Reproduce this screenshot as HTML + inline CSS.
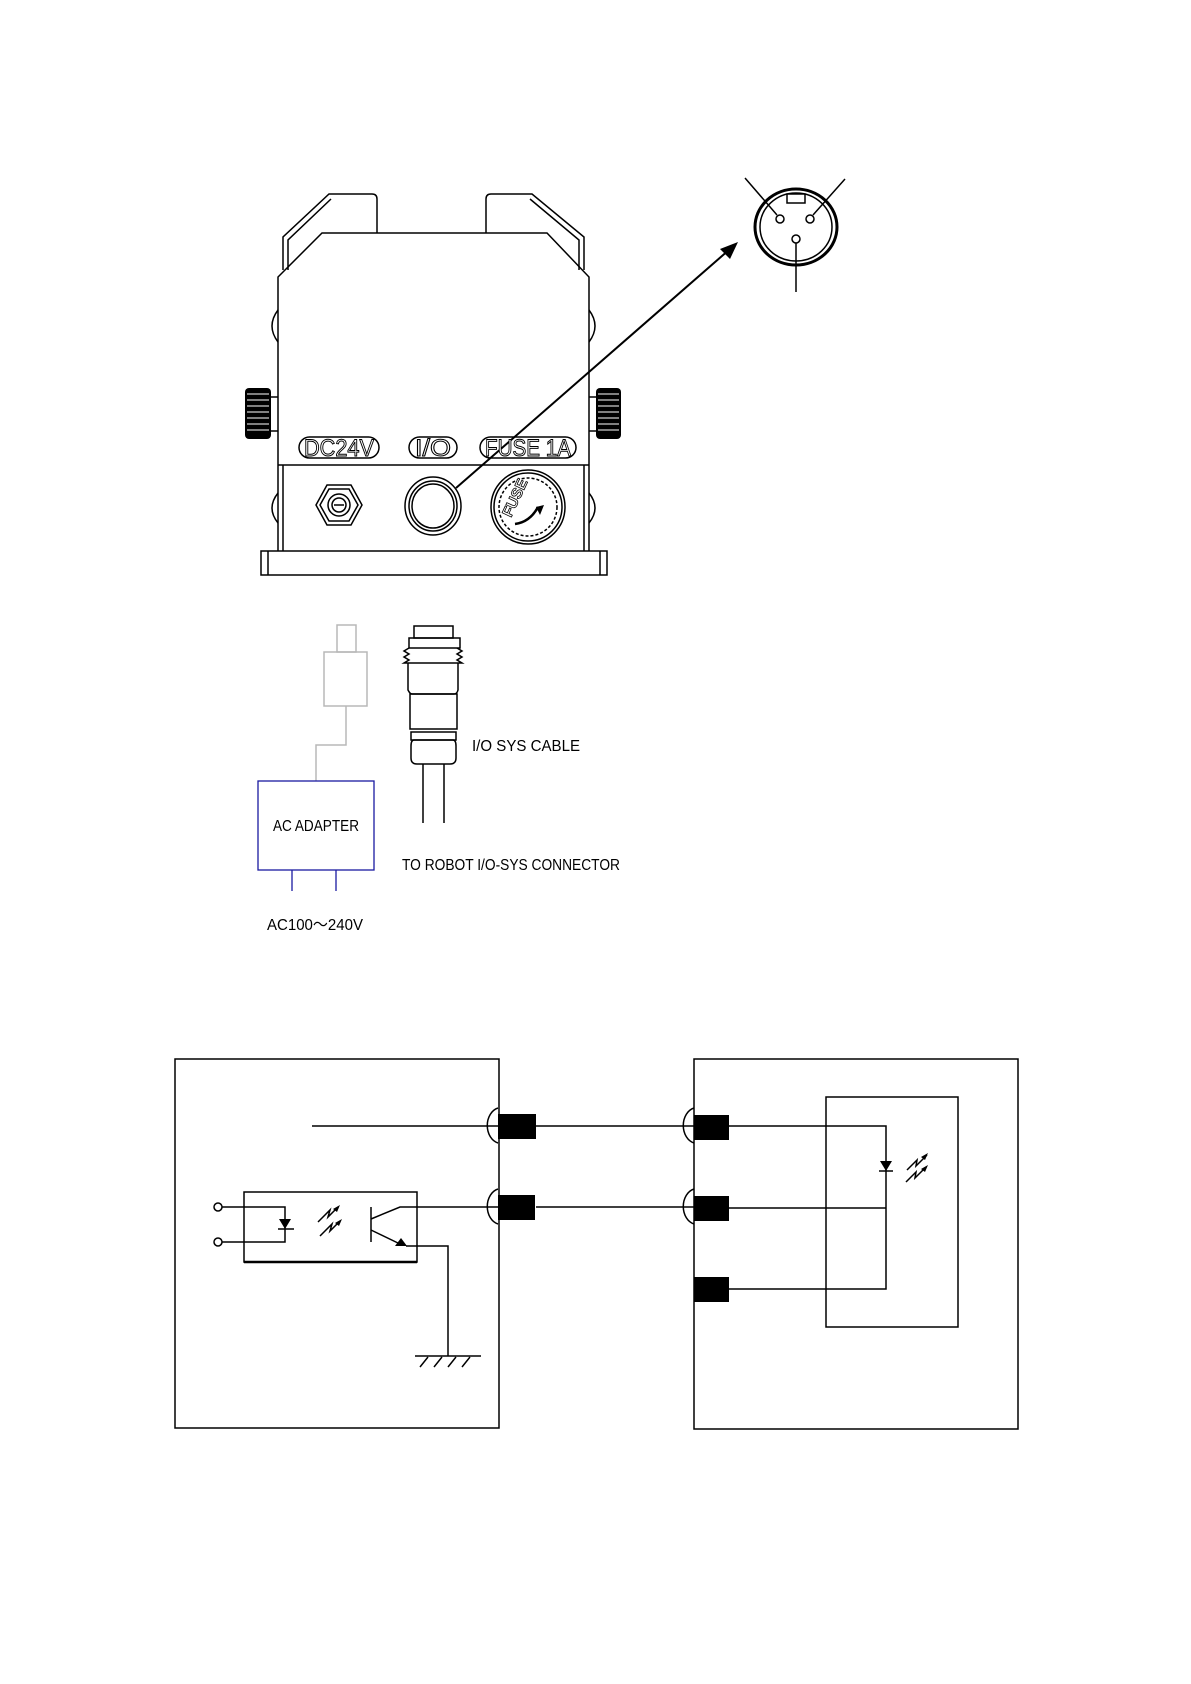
<!DOCTYPE html>
<html><head><meta charset="utf-8"><style>
html,body{margin:0;padding:0;background:#fff;}
svg{display:block;}
text{font-family:"Liberation Sans",sans-serif;}
</style></head><body>
<svg width="1191" height="1684" viewBox="0 0 1191 1684" xmlns="http://www.w3.org/2000/svg">
<rect width="1191" height="1684" fill="#fff"/>
<g fill="none" stroke="#000" stroke-width="1.5">
<!-- fingers -->
<path d="M283 270 V237 L329 194 H372 Q377 194 377 199 V233"/>
<path d="M288 270 V240 L331 199"/>
<path d="M584 270 V237 L532 194 H491 Q486 194 486 199 V233"/>
<path d="M579 270 V240 L530 199"/>
<!-- body -->
<path d="M278 551 V277 L322 233 H547 L589 277 V551"/>
<line x1="278" y1="465" x2="589" y2="465"/>
<line x1="283" y1="465" x2="283" y2="551"/>
<line x1="584" y1="465" x2="584" y2="551"/>
<rect x="261" y="551" width="346" height="24"/>
<line x1="268" y1="551" x2="268" y2="575"/><line x1="600" y1="551" x2="600" y2="575"/>
<!-- side bumps -->
<path d="M278 310 Q266 326 278 342"/><path d="M278 493 Q266 508 278 523"/>
<path d="M589 310 Q601 326 589 342"/><path d="M589 493 Q601 508 589 523"/>
<line x1="271" y1="397" x2="278" y2="397"/><line x1="271" y1="431" x2="278" y2="431"/>
<line x1="589" y1="397" x2="596" y2="397"/><line x1="589" y1="431" x2="596" y2="431"/>
<!-- pills -->
<rect x="299" y="437" width="80" height="21" rx="10.5"/>
<rect x="409" y="437" width="48" height="21" rx="10.5"/>
<rect x="480" y="437" width="96" height="21" rx="10.5"/>
<!-- DC jack -->
<polygon points="327,485 351,485 362,505 351,525 327,525 316,505"/>
<polygon points="329,489 349,489 358,505 349,521 329,521 320,505"/>
<circle cx="339" cy="505" r="11"/><circle cx="339" cy="505" r="7"/>
<line x1="334" y1="505" x2="344" y2="505"/>
<!-- IO -->
<ellipse cx="433" cy="506" rx="28" ry="29"/><ellipse cx="433" cy="506" rx="24" ry="25"/><ellipse cx="433" cy="506" rx="21" ry="22"/>
<!-- fuse -->
<circle cx="528" cy="507" r="37"/><circle cx="528" cy="507" r="34"/>
<circle cx="528" cy="507" r="29" stroke-dasharray="3 2"/>
<path d="M515 524 Q530 522 538 507" stroke-width="2.5"/>
<!-- connector -->
<ellipse cx="796" cy="227" rx="41" ry="38" stroke-width="3"/>
<ellipse cx="796" cy="227" rx="36" ry="34"/>
<rect x="787" y="194" width="18" height="9"/>
<circle cx="780" cy="219" r="4"/><circle cx="810" cy="219" r="4"/><circle cx="796" cy="239" r="4"/>
<line x1="745" y1="178" x2="777" y2="215"/><line x1="845" y1="179" x2="813" y2="215"/>
<line x1="796" y1="243" x2="796" y2="292"/>
<!-- arrow -->
<line x1="456" y1="488" x2="730" y2="249" stroke-width="2"/>
</g>
<polygon points="738,242 720,249 730,259" fill="#000"/>
<polygon points="544,505 540,515 536,507" fill="#000"/>
<!-- knobs -->
<g fill="#000"><rect x="245" y="388" width="26" height="51" rx="4"/><rect x="596" y="388" width="25" height="51" rx="4"/></g>
<g stroke="#fff" stroke-width="1">
<line x1="247" y1="394" x2="269" y2="394"/><line x1="247" y1="400" x2="269" y2="400"/><line x1="247" y1="406" x2="269" y2="406"/><line x1="247" y1="412" x2="269" y2="412"/><line x1="247" y1="418" x2="269" y2="418"/><line x1="247" y1="424" x2="269" y2="424"/><line x1="247" y1="430" x2="269" y2="430"/>
<line x1="598" y1="394" x2="619" y2="394"/><line x1="598" y1="400" x2="619" y2="400"/><line x1="598" y1="406" x2="619" y2="406"/><line x1="598" y1="412" x2="619" y2="412"/><line x1="598" y1="418" x2="619" y2="418"/><line x1="598" y1="424" x2="619" y2="424"/><line x1="598" y1="430" x2="619" y2="430"/>
</g>
<g fill="#fff" stroke="#000" stroke-width="1" font-size="24">
<text x="339" y="456" text-anchor="middle" textLength="70" lengthAdjust="spacingAndGlyphs">DC24V</text>
<text x="433" y="456" text-anchor="middle" textLength="36" lengthAdjust="spacingAndGlyphs">I/O</text>
<text x="528" y="456" text-anchor="middle" textLength="86" lengthAdjust="spacingAndGlyphs">FUSE 1A</text>
</g>
<text x="0" y="0" font-size="15" font-weight="bold" fill="#fff" stroke="#000" stroke-width="0.8" transform="translate(511 518) rotate(-65)">FUSE</text>

<!-- cable / adapter -->
<g fill="none" stroke="#b8b8b8" stroke-width="1.5">
<rect x="337" y="625" width="19" height="27"/>
<rect x="324" y="652" width="43" height="54"/>
<path d="M346 706 V745 H316 V781"/>
</g>
<g fill="none" stroke="#1a1aa0" stroke-width="1.3">
<rect x="258" y="781" width="116" height="89"/>
<line x1="292" y1="870" x2="292" y2="891"/><line x1="336" y1="870" x2="336" y2="891"/>
</g>
<g fill="none" stroke="#000" stroke-width="1.5">
<rect x="414" y="626" width="39" height="12"/>
<rect x="409" y="638" width="51" height="10"/>
<path d="M409 648 L404 651 L409 654 L404 657 L409 660 L404 663 H462 L457 660 L462 657 L457 654 L462 651 L457 648"/>
<path d="M408 663 V690 Q410 694 412 694 H454 Q457 694 458 690 V663"/>
<rect x="410" y="694" width="47" height="35"/>
<rect x="411" y="732" width="45" height="8"/>
<path d="M414 740 H453 Q456 740 456 746 V758 Q456 764 450 764 H417 Q411 764 411 758 V746 Q411 740 414 740Z"/>
<line x1="423" y1="764" x2="423" y2="823"/><line x1="444" y1="764" x2="444" y2="823"/>
</g>
<g font-size="16" fill="#000">
<text x="316" y="831" text-anchor="middle" textLength="86" lengthAdjust="spacingAndGlyphs">AC ADAPTER</text>
<text x="472" y="751" textLength="108" lengthAdjust="spacingAndGlyphs">I/O SYS CABLE</text>
<text x="402" y="870" textLength="218" lengthAdjust="spacingAndGlyphs">TO ROBOT I/O-SYS CONNECTOR</text>
<text x="267" y="930" textLength="96" lengthAdjust="spacingAndGlyphs">AC100～240V</text>
</g>

<!-- schematic -->
<g fill="none" stroke="#000" stroke-width="1.5">
<rect x="175" y="1059" width="324" height="369"/>
<rect x="694" y="1059" width="324" height="370"/>
<rect x="826" y="1097" width="132" height="230"/>
<line x1="312" y1="1126" x2="498" y2="1126"/>
<line x1="536" y1="1126" x2="694" y2="1126"/>
<line x1="536" y1="1207" x2="694" y2="1207"/>
<path d="M498 1108 A14 18 0 0 0 498 1143"/>
<path d="M498 1189 A14 18 0 0 0 498 1224"/>
<path d="M694 1108 A14 18 0 0 0 694 1143"/>
<path d="M694 1189 A14 18 0 0 0 694 1224"/>
<path d="M729 1126 H886 V1289 H729"/>
<line x1="729" y1="1208" x2="886" y2="1208"/>
<line x1="879" y1="1171" x2="893" y2="1171"/>
<rect x="244" y="1192" width="173" height="70"/>
<line x1="244" y1="1262" x2="417" y2="1262" stroke-width="2.5"/>
<circle cx="218" cy="1207" r="4"/><circle cx="218" cy="1242" r="4"/>
<path d="M222 1207 H285 V1242 H222"/>
<line x1="278" y1="1229" x2="294" y2="1229"/>
<line x1="371" y1="1207" x2="371" y2="1242"/>
<path d="M371 1219 L400 1207 H498"/>
<line x1="371" y1="1230" x2="400" y2="1244"/>
<path d="M406 1246 H448 V1356"/>
<line x1="415" y1="1356" x2="481" y2="1356"/>
<path d="M420 1367 L428 1357 M434 1367 L442 1357 M448 1367 L456 1357 M462 1367 L470 1357"/>
<path d="M318 1222 L330 1210 L328 1217 L338 1207 M320 1236 L332 1224 L330 1231 L340 1221"/>
<path d="M906 1182 L916 1172 L915 1178 L926 1167 M907 1170 L917 1160 L916 1166 L927 1155"/>
</g>
<g fill="#000">
<rect x="498" y="1114" width="38" height="25"/>
<rect x="498" y="1195" width="37" height="25"/>
<rect x="694" y="1115" width="35" height="25"/>
<rect x="694" y="1196" width="35" height="25"/>
<rect x="694" y="1277" width="35" height="25"/>
<polygon points="279,1219 291,1219 285,1229"/>
<polygon points="880,1161 892,1161 886,1171"/>
<polygon points="407,1246 395,1246 401,1238"/>
<polygon points="340,1205 333,1209 337,1212"/><polygon points="342,1219 335,1223 339,1226"/>
<polygon points="928,1153 921,1157 925,1160"/><polygon points="928,1165 921,1169 925,1172"/>
</g>
</svg>
</body></html>
